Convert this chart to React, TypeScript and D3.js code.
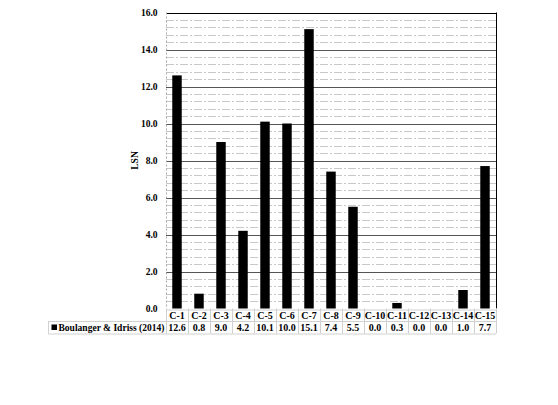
import React, { useEffect, useRef } from 'react';
import * as d3 from 'd3';

const categories = ['C-1', 'C-2', 'C-3', 'C-4', 'C-5', 'C-6', 'C-7', 'C-8', 'C-9', 'C-10', 'C-11', 'C-12', 'C-13', 'C-14', 'C-15'];
const lsnValues = [12.6, 0.8, 9.0, 4.2, 10.1, 10.0, 15.1, 7.4, 5.5, 0.0, 0.3, 0.0, 0.0, 1.0, 7.7];
const seriesName = 'Boulanger & Idriss (2014)';
const majorTicks = [0, 2, 4, 6, 8, 10, 12, 14, 16];

const App = () => {
  const ref = useRef(null);

  useEffect(() => {
    const svg = d3.select(ref.current);
    svg.selectAll('*').remove();

    const left = 166, right = 496, top = 12.5, bottom = 308.5;
    const rowH = 11.5;
    const font = 'Liberation Serif, Times New Roman, serif';

    const x = d3.scaleBand().domain(categories).range([left, right]).paddingInner(0.57).paddingOuter(0.285);
    const xCell = d3.scaleBand().domain(categories).range([left, right]);
    const y = d3.scaleLinear().domain([0, 16]).range([bottom, top]);

    // minor dashed grid
    const minor = d3.range(0, 16.01, 0.4).filter(v => Math.abs(v / 2 - Math.round(v / 2)) > 0.01);
    svg.append('g').selectAll('line').data(minor).enter().append('line')
      .attr('x1', left).attr('x2', right)
      .attr('y1', d => Math.round(y(d)) + 0.5).attr('y2', d => Math.round(y(d)) + 0.5)
      .attr('stroke', '#c8c8c8').attr('stroke-width', 1)
      .attr('stroke-dasharray', '8,2,2,2');

    // major grid
    svg.append('g').selectAll('line').data(majorTicks.filter(d => d > 0)).enter().append('line')
      .attr('x1', left).attr('x2', right)
      .attr('y1', d => Math.round(y(d)) + 0.5).attr('y2', d => Math.round(y(d)) + 0.5)
      .attr('stroke', d => d === 16 ? '#000' : '#555').attr('stroke-width', 1);

    // left axis dotted, right border
    svg.append('line').attr('x1', left + 0.5).attr('x2', left + 0.5).attr('y1', top).attr('y2', bottom)
      .attr('stroke', '#aaa').attr('stroke-dasharray', '2,2');
    svg.append('line').attr('x1', right + 0.5).attr('x2', right + 0.5).attr('y1', top).attr('y2', bottom)
      .attr('stroke', '#000');

    // bars
    svg.append('g').selectAll('rect').data(categories).enter().append('rect')
      .attr('x', d => x(d))
      .attr('width', x.bandwidth())
      .attr('y', (d, i) => y(lsnValues[i]))
      .attr('height', (d, i) => bottom - y(lsnValues[i]))
      .attr('fill', '#000');

    const txt = (sel, size = 10) => sel
      .attr('font-family', font).attr('font-weight', 'bold').attr('font-size', size).attr('fill', '#000');

    // y tick labels
    txt(svg.append('g').selectAll('text').data(majorTicks).enter().append('text')
      .attr('x', 157.5).attr('y', d => y(d) + 3.5)
      .attr('text-anchor', 'end')
      .text(d => d.toFixed(1)), 9.5);

    txt(svg.append('text')
      .attr('transform', `translate(138,${(top + bottom) / 2}) rotate(-90)`)
      .attr('text-anchor', 'middle')
      .text('LSN'), 9.5);

    // data table
    const t0 = bottom + 1, t1 = t0 + rowH, t2 = t1 + rowH + 1;
    const tbl = svg.append('g');
    const gray = '#d0d0d0';
    tbl.append('line').attr('x1', left).attr('x2', right).attr('y1', t0 + 0.5).attr('y2', t0 + 0.5).attr('stroke', gray);
    tbl.append('line').attr('x1', 48).attr('x2', right).attr('y1', t1 + 0.5).attr('y2', t1 + 0.5).attr('stroke', gray);
    tbl.append('line').attr('x1', 48).attr('x2', right).attr('y1', t2 + 0.5).attr('y2', t2 + 0.5).attr('stroke', gray);
    tbl.append('line').attr('x1', 48.5).attr('x2', 48.5).attr('y1', t1).attr('y2', t2).attr('stroke', gray);
    tbl.selectAll('line.v').data(categories.concat(['end'])).enter().append('line')
      .attr('x1', (d, i) => Math.round(i < categories.length ? xCell(d) : right) + 0.5)
      .attr('x2', (d, i) => Math.round(i < categories.length ? xCell(d) : right) + 0.5)
      .attr('y1', bottom).attr('y2', t2)
      .attr('stroke', gray);

    txt(tbl.selectAll('text.cat').data(categories).enter().append('text')
      .attr('x', d => xCell(d) + xCell.bandwidth() / 2).attr('y', t0 + 9.5)
      .attr('text-anchor', 'middle')
      .text(d => d));

    txt(tbl.selectAll('text.val').data(lsnValues).enter().append('text')
      .attr('x', (d, i) => xCell(categories[i]) + xCell.bandwidth() / 2).attr('y', t1 + 10)
      .attr('text-anchor', 'middle')
      .text(d => d.toFixed(1)));

    tbl.append('rect').attr('x', 51.5).attr('y', t1 + 3.5).attr('width', 5.5).attr('height', 5.5).attr('fill', '#000');
    txt(tbl.append('text').attr('x', 58.5).attr('y', t1 + 10)
      .attr('textLength', 106).attr('lengthAdjust', 'spacingAndGlyphs')
      .text(seriesName));
  }, []);

  return (
    <svg ref={ref} width={558} height={405} style={{ position: 'absolute', left: 0, top: 0, background: '#fff' }} />
  );
};

export default App;
